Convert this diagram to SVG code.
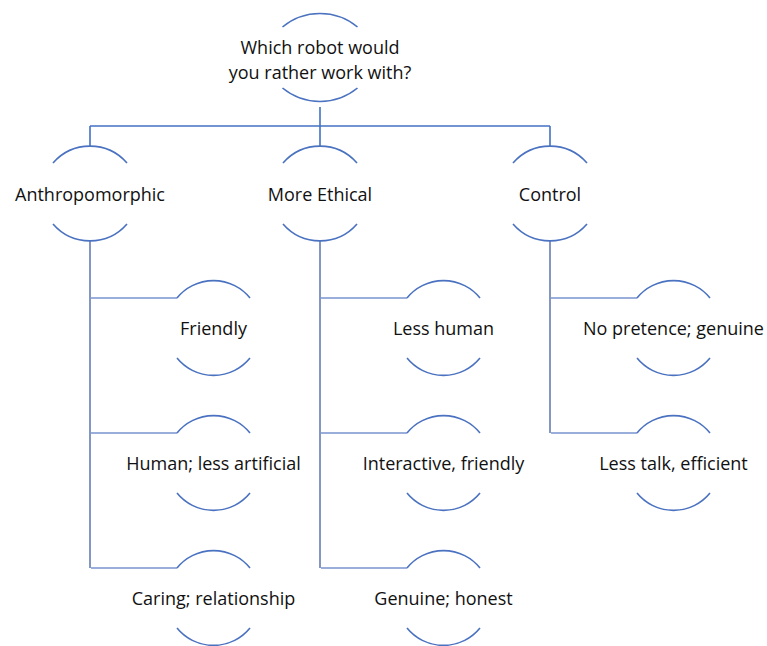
<svg xmlns="http://www.w3.org/2000/svg" width="767" height="646" viewBox="0 0 767 646">
  <style>
    .arc { fill: none; stroke: #4A72C0; stroke-width: 1.6; }
    .lvl1 { fill: none; stroke: #4472C4; stroke-width: 1.6; }
    .trunk { fill: none; stroke: #8497C2; stroke-width: 2; }
    .branch { fill: none; stroke: #9AAEDB; stroke-width: 2; }
    text { font-family: "Open Sans", "Liberation Sans", Arial, sans-serif; font-size: 18px; fill: #111111; text-anchor: middle; dominant-baseline: central; }
  </style>
  <rect width="767" height="646" fill="#ffffff"/>

  <g id="connectors">
    <!-- root to level 1 -->
    <path class="lvl1" d="M320 107 V146 M90 126 H550 M90 126 V146 M550 126 V146"/>
    <!-- level 1 trunks -->
    <path class="trunk" d="M90 241 V568 M320 241 V568 M550 241 V433"/>
    <!-- branches to leaves -->
    <path class="branch" d="M91 298 H177 M91 433 H177 M91 568 H177"/>
    <path class="branch" d="M321 298 H407 M321 433 H407 M321 568 H407"/>
    <path class="branch" d="M551 298 H637 M551 433 H637"/>
  </g>

  <g id="root">
    <path class="arc" d="M282.5 27 A59 59 0 0 1 357.5 27"/>
    <path class="arc" d="M282.5 88 A59 59 0 0 0 357.5 88"/>
    <text x="320" y="47">Which robot would</text>
    <text x="320" y="72">you rather work with?</text>
  </g>

  <g id="anthropomorphic">
    <path class="arc" d="M53 163 A49 49 0 0 1 127 163"/>
    <path class="arc" d="M53 224 A49 49 0 0 0 127 224"/>
    <text x="90" y="194">Anthropomorphic</text>
  </g>
  <g id="more-ethical">
    <path class="arc" d="M283 163 A49 49 0 0 1 357 163"/>
    <path class="arc" d="M283 224 A49 49 0 0 0 357 224"/>
    <text x="320" y="194">More Ethical</text>
  </g>
  <g id="control">
    <path class="arc" d="M513 163 A49 49 0 0 1 587 163"/>
    <path class="arc" d="M513 224 A49 49 0 0 0 587 224"/>
    <text x="550" y="194">Control</text>
  </g>

  <g id="friendly">
    <path class="arc" d="M177 298 A47 47 0 0 1 250 298"/>
    <path class="arc" d="M177 358 A47 47 0 0 0 250 358"/>
    <text x="213.5" y="328">Friendly</text>
  </g>
  <g id="human-less-artificial">
    <path class="arc" d="M177 433 A47 47 0 0 1 250 433"/>
    <path class="arc" d="M177 493 A47 47 0 0 0 250 493"/>
    <text x="213.5" y="463">Human; less artificial</text>
  </g>
  <g id="caring-relationship">
    <path class="arc" d="M177 568 A47 47 0 0 1 250 568"/>
    <path class="arc" d="M177 628 A47 47 0 0 0 250 628"/>
    <text x="213.5" y="598">Caring; relationship</text>
  </g>

  <g id="less-human">
    <path class="arc" d="M407 298 A47 47 0 0 1 480 298"/>
    <path class="arc" d="M407 358 A47 47 0 0 0 480 358"/>
    <text x="443.5" y="328">Less human</text>
  </g>
  <g id="interactive-friendly">
    <path class="arc" d="M407 433 A47 47 0 0 1 480 433"/>
    <path class="arc" d="M407 493 A47 47 0 0 0 480 493"/>
    <text x="443.5" y="463">Interactive, friendly</text>
  </g>
  <g id="genuine-honest">
    <path class="arc" d="M407 568 A47 47 0 0 1 480 568"/>
    <path class="arc" d="M407 628 A47 47 0 0 0 480 628"/>
    <text x="443.5" y="598">Genuine; honest</text>
  </g>

  <g id="no-pretence-genuine">
    <path class="arc" d="M637 298 A47 47 0 0 1 710 298"/>
    <path class="arc" d="M637 358 A47 47 0 0 0 710 358"/>
    <text x="673.5" y="328">No pretence; genuine</text>
  </g>
  <g id="less-talk-efficient">
    <path class="arc" d="M637 433 A47 47 0 0 1 710 433"/>
    <path class="arc" d="M637 493 A47 47 0 0 0 710 493"/>
    <text x="673.5" y="463">Less talk, efficient</text>
  </g>
</svg>
